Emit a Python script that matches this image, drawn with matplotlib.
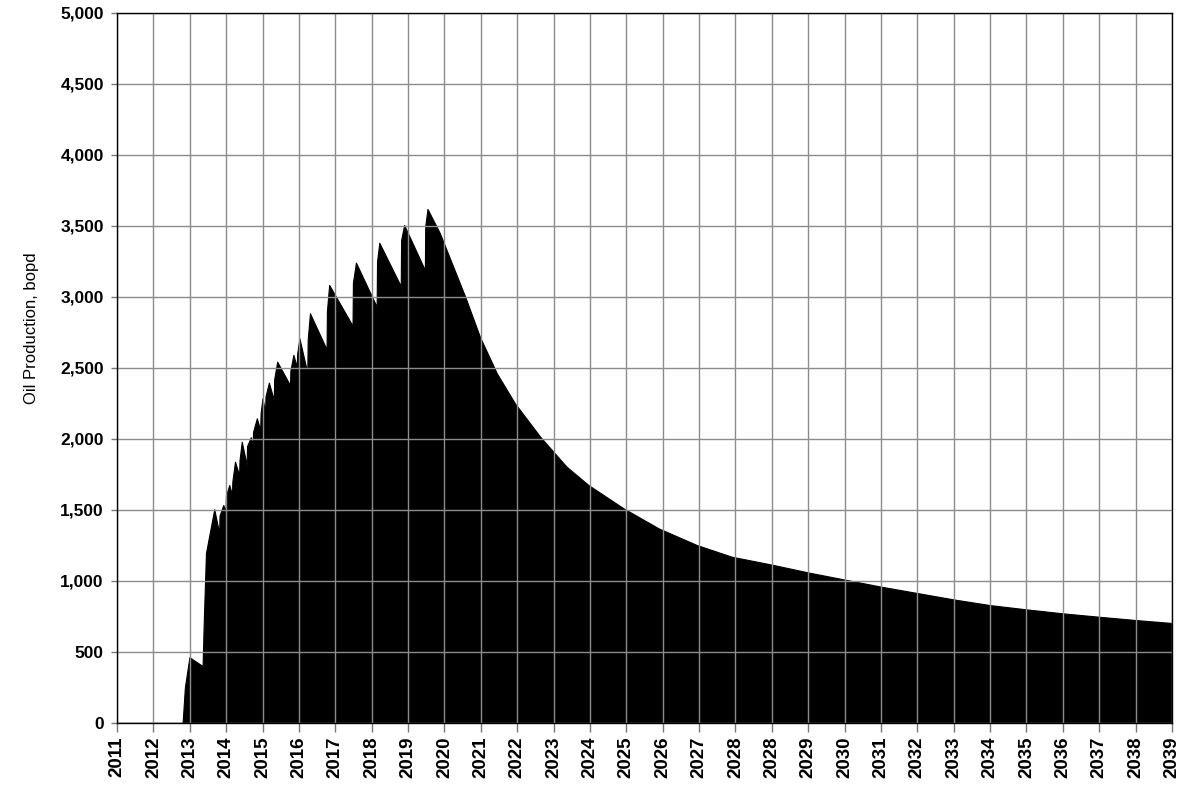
import numpy as np
import matplotlib
matplotlib.use("Agg")
import matplotlib.pyplot as plt
from matplotlib.ticker import FuncFormatter

# total oil rate
# x = years since the start of the axis (one tick every 365 days), y = bopd
t = [0.0, 1.802, 1.864, 1.989, 2.351, 2.382, 2.444, 2.672, 2.807, 2.817, 2.921, 2.983,
     2.993, 3.086, 3.159, 3.169, 3.242, 3.356, 3.366, 3.428, 3.563, 3.573, 3.677, 3.729,
     3.739, 3.843, 3.936, 3.946, 3.998, 4.070, 4.081, 4.174, 4.309, 4.319, 4.402, 4.754,
     4.764, 4.847, 4.940, 4.951, 5.013, 5.230, 5.241, 5.303, 5.759, 5.769, 5.831, 6.473,
     6.484, 6.567, 7.136, 7.147, 7.209, 7.799, 7.809, 7.892, 8.462, 8.472, 8.534, 8.876,
     9.570, 9.974, 10.440, 10.937, 11.631, 12.356, 12.957, 13.920, 14.883, 15.929, 16.893,
     18.0, 19.0, 20.0, 21.0, 22.0, 23.0, 24.0, 25.0, 26.0, 27.0, 28.0, 29.0]
oil = [0, 0, 250, 463, 401, 700, 1197, 1505, 1336, 1460, 1535, 1488,
       1600, 1676, 1606, 1700, 1840, 1746, 1850, 1981, 1817, 1950, 2012, 1958,
       2050, 2146, 2063, 2180, 2287, 2192, 2300, 2397, 2275, 2420, 2544, 2380,
       2480, 2592, 2509, 2600, 2709, 2467, 2700, 2885, 2632, 2900, 3085, 2798,
       3100, 3242, 2932, 3250, 3382, 3077, 3400, 3507, 3190, 3500, 3620, 3448,
       3002, 2720, 2462, 2251, 2016, 1805, 1676, 1512, 1371, 1254, 1171,
       1115, 1060, 1010, 960, 915, 870, 830, 800, 772, 748, 725, 704]

year_labels = ['2011', '2012', '2013', '2014', '2015', '2016', '2017', '2018', '2019',
               '2020', '2021', '2022', '2023', '2024', '2025', '2026', '2027', '2028',
               '2028', '2029', '2030', '2031', '2032', '2033', '2034', '2035', '2036',
               '2037', '2038', '2039']

plt.rcParams['font.family'] = ['Liberation Sans', 'DejaVu Sans']

fig = plt.figure(figsize=(11.92, 7.86), dpi=100)
ax = fig.add_axes([0.0982, 0.0802, 0.885, 0.9033])

ax.fill_between(t, oil, 0, color='black', linewidth=0.8, edgecolor='black', zorder=1)

ax.set_xlim(0, 29)
ax.set_ylim(0, 5000)
ax.set_xticks(range(len(year_labels)))
ax.set_xticklabels(year_labels, rotation=90, fontsize=13.5, fontweight='bold')
ax.set_yticks(np.arange(0, 5001, 500))
ax.yaxis.set_major_formatter(FuncFormatter(lambda v, p: f"{int(v):,}"))
for lab in ax.get_yticklabels():
    lab.set_fontweight('bold')
    lab.set_fontsize(12.5)

ax.grid(True, color='#8c8c8c', linewidth=1.0)
ax.set_axisbelow(False)
ax.tick_params(axis='x', direction='out', length=6.5, color='#777777', width=1, pad=3)
ax.tick_params(axis='y', direction='out', length=4.5, color='#777777', width=1, pad=5)
for s in ax.spines.values():
    s.set_color('black')
    s.set_linewidth(1.0)
    s.set_zorder(3)

ax.set_ylabel('Oil Production, bopd', fontsize=12, fontstretch='condensed')
ax.yaxis.set_label_coords(-0.074, 0.556)

fig.savefig('out.png', dpi=100)
